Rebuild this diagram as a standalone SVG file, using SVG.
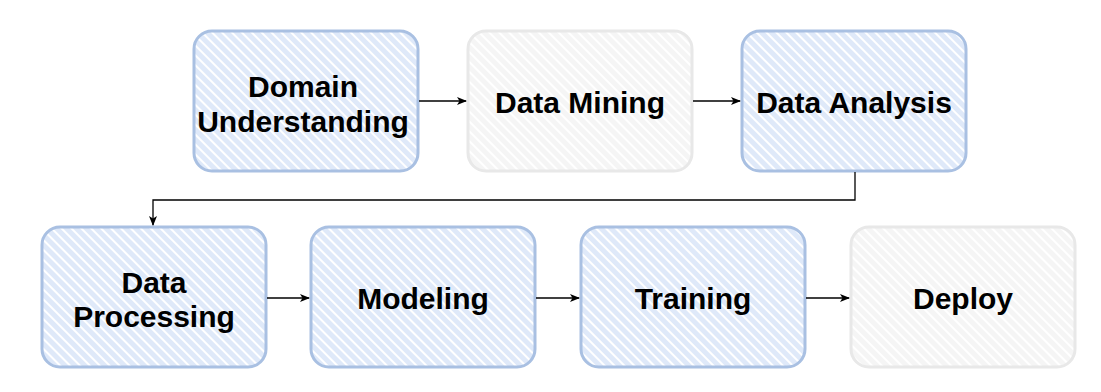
<svg xmlns="http://www.w3.org/2000/svg" width="1101" height="392" viewBox="0 0 1101 392">
<style>
.lbl{font-family:"Liberation Sans",Arial,sans-serif;font-weight:bold;font-size:30px;fill:#000;text-anchor:middle}
.blue{fill:url(#hb);stroke:#a9c0e2;stroke-width:3}
.gray{fill:url(#hg);stroke:#e8e8e8;stroke-width:3}
.con{fill:none;stroke:#000;stroke-width:1.3}
</style>
<defs>
<pattern id="hb" patternUnits="userSpaceOnUse" width="7" height="7" patternTransform="rotate(45)">
<rect width="7" height="7" fill="#ffffff"/>
<rect width="7" height="5" fill="#dfe9f9"/>
</pattern>
<pattern id="hg" patternUnits="userSpaceOnUse" width="7" height="7" patternTransform="rotate(45)">
<rect width="7" height="7" fill="#ffffff"/>
<rect width="7" height="5" fill="#f5f5f5"/>
</pattern>
<marker id="ah" viewBox="0 0 10 10" refX="9" refY="5" markerWidth="10" markerHeight="10" markerUnits="userSpaceOnUse" orient="auto">
<path d="M0,1 L10,5 L0,9 L2.5,5 Z" fill="#000"/>
</marker>
</defs>
<g id="n1"><rect class="blue" x="194" y="31" width="224" height="140" rx="18"/><text class="lbl" x="303" y="97">Domain</text><text class="lbl" x="303" y="132">Understanding</text></g>
<g id="n2"><rect class="gray" x="468" y="31" width="224" height="140" rx="18"/><text class="lbl" x="580" y="113">Data Mining</text></g>
<g id="n3"><rect class="blue" x="742" y="31" width="224" height="140" rx="18"/><text class="lbl" x="854" y="113">Data Analysis</text></g>
<g id="n4"><rect class="blue" x="42" y="227" width="224" height="140" rx="18"/><text class="lbl" x="154" y="293">Data</text><text class="lbl" x="154" y="327">Processing</text></g>
<g id="n5"><rect class="blue" x="311" y="227" width="224" height="140" rx="18"/><text class="lbl" x="423" y="309">Modeling</text></g>
<g id="n6"><rect class="blue" x="581" y="227" width="224" height="140" rx="18"/><text class="lbl" x="693" y="309">Training</text></g>
<g id="n7"><rect class="gray" x="851" y="227" width="224" height="140" rx="18"/><text class="lbl" x="963" y="309">Deploy</text></g>
<g id="connectors">
<path class="con" d="M419,101 H466" marker-end="url(#ah)"/>
<path class="con" d="M693,101 H740" marker-end="url(#ah)"/>
<path class="con" d="M855,172 V200 H153 V225" marker-end="url(#ah)"/>
<path class="con" d="M267,298 H309" marker-end="url(#ah)"/>
<path class="con" d="M536,298 H579" marker-end="url(#ah)"/>
<path class="con" d="M806,298 H849" marker-end="url(#ah)"/>
</g>
</svg>
